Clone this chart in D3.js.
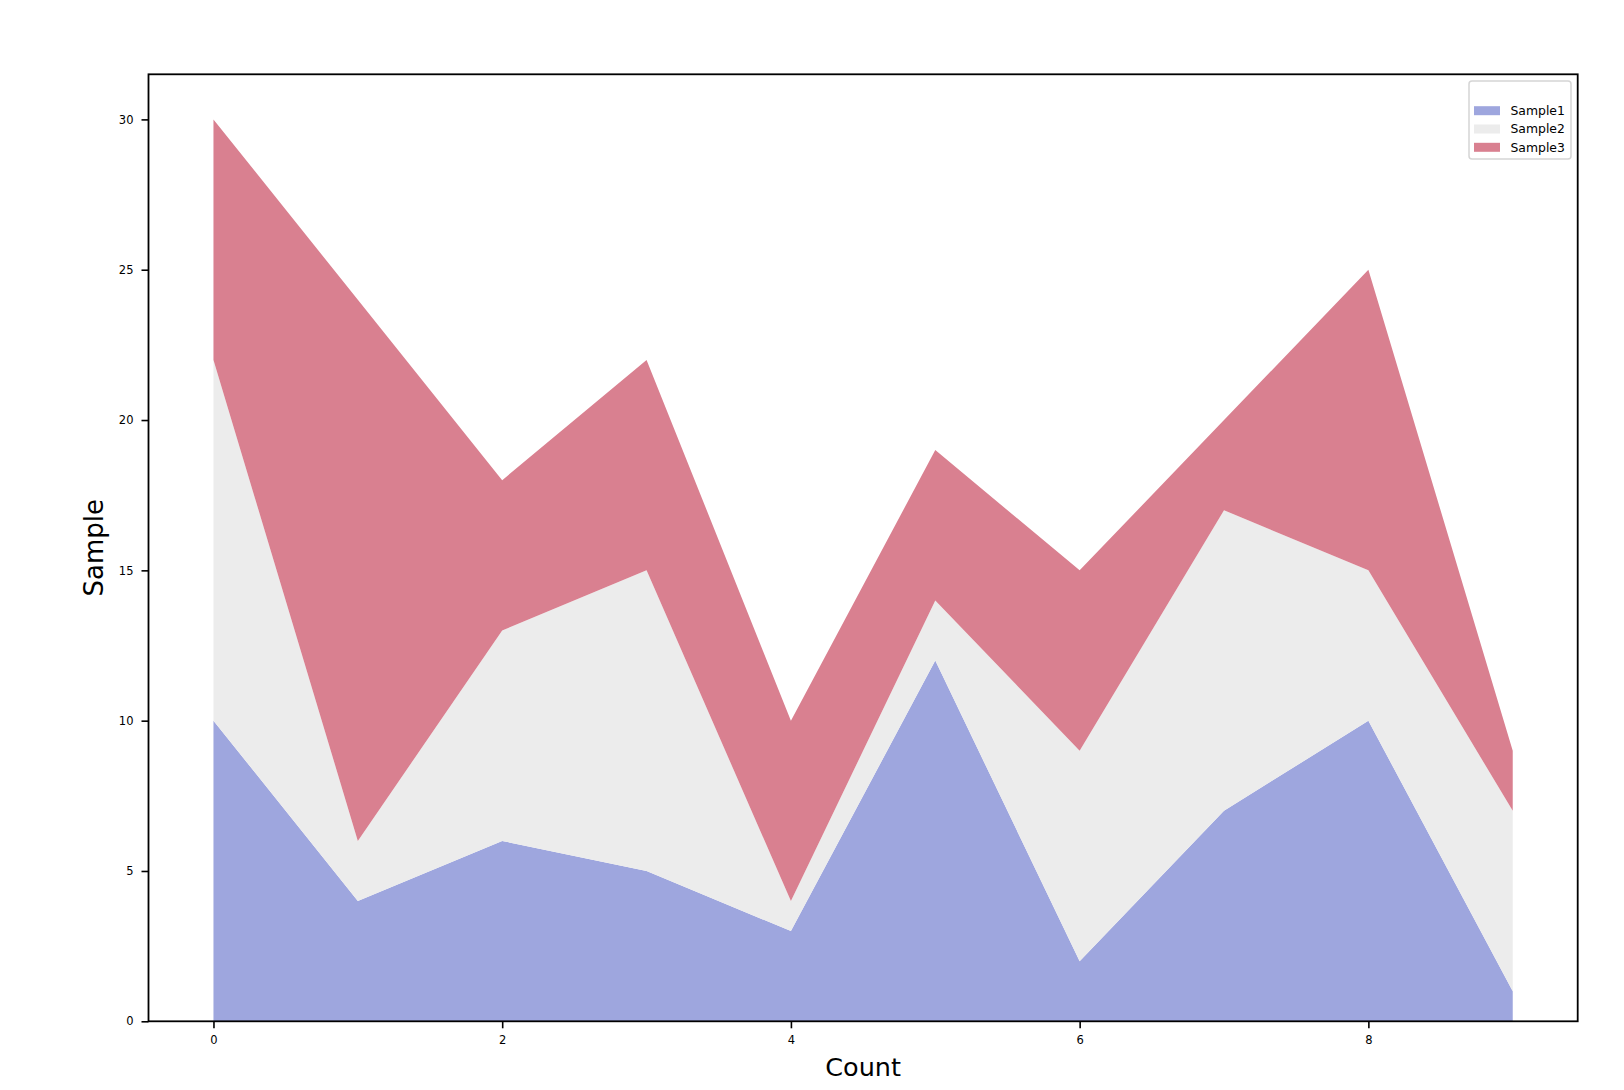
<!DOCTYPE html>
<html>
<head>
<meta charset="utf-8">
<script src="https://cdn.jsdelivr.net/npm/d3@7"></script>
<style>
	body { margin: 0; background: #fff; }
	text { font-family: "DejaVu Sans", sans-serif; }
</style>
</head>
<body>
<div id="chart"></div>
<script>
"use strict";
// data
const categories = [0, 1, 2, 3, 4, 5, 6, 7, 8, 9];
const sample1 = [10, 4, 6, 5, 3, 12, 2, 7, 10, 1];
const sample2 = [12, 2, 7, 10, 1, 2, 7, 10, 5, 6];
const sample3 = [8, 18, 5, 7, 6, 5, 6, 3, 10, 2];
const seriesNames = ["Sample1", "Sample2", "Sample3"];
const seriesColors = ["#9ea6de", "#ececec", "#d98090"];
const xTicks = [0, 2, 4, 6, 8];
const yTicks = [0, 5, 10, 15, 20, 25, 30];

const W = 1624, H = 1090;
const plotLeft = 148.5, plotRight = 1577.7, plotTop = 74.3, plotBottom = 1021.3;

let svg = d3.select("#chart").append("svg")
	.attr("width", W)
	.attr("height", H);

let x = d3.scaleLinear().domain([-0.45, 9.45]).range([plotLeft, plotRight]);
let y = d3.scaleLinear().domain([0, 31.5]).range([plotBottom, plotTop]);

let rows = categories.map(function (c, i) {
	return { c: c, Sample1: sample1[i], Sample2: sample2[i], Sample3: sample3[i] };
});
let stacked = d3.stack().keys(seriesNames)(rows);

let area = d3.area()
	.x(function (d) { return x(d.data.c) })
	.y0(function (d) { return y(d[0]) })
	.y1(function (d) { return y(d[1]) });

svg.append("g").selectAll("path")
	.data(stacked)
	.enter()
	.append("path")
	.attr("d", area)
	.style("fill", function (d, i) { return seriesColors[i] });

//x axis
let xAxis = svg.append("g")
	.attr("transform", "translate(0," + plotBottom + ")")
	.call(d3.axisBottom(x).tickValues(xTicks).tickSize(7).tickPadding(8).tickSizeOuter(0));
xAxis.select(".domain").remove();
xAxis.selectAll("line").style("stroke", "#000").style("stroke-width", "1.6px");
xAxis.selectAll("text").style("font-size", "11.5px").style("fill", "#000");

//y axis
let yAxis = svg.append("g")
	.attr("transform", "translate(" + plotLeft + ",0)")
	.call(d3.axisLeft(y).tickValues(yTicks).tickSize(7).tickPadding(8).tickSizeOuter(0));
yAxis.select(".domain").remove();
yAxis.selectAll("line").style("stroke", "#000").style("stroke-width", "1.6px");
yAxis.selectAll("text").style("font-size", "11.5px").style("fill", "#000");

//frame
svg.append("rect")
	.attr("x", plotLeft)
	.attr("y", plotTop)
	.attr("width", plotRight - plotLeft)
	.attr("height", plotBottom - plotTop)
	.style("fill", "none")
	.style("stroke", "#000")
	.style("stroke-width", "1.8px");

//axis titles
svg.append("text")
	.attr("x", (plotLeft + plotRight) / 2)
	.attr("y", 1076)
	.attr("text-anchor", "middle")
	.style("font-size", "25.5px")
	.text("Count");

svg.append("text")
	.attr("transform", "translate(103," + (plotTop + plotBottom) / 2 + ") rotate(-90)")
	.attr("text-anchor", "middle")
	.style("font-size", "26px")
	.text("Sample");

//legend
let legend = svg.append("g");
legend.append("rect")
	.attr("x", 1469)
	.attr("y", 81)
	.attr("width", 102)
	.attr("height", 78)
	.attr("rx", 3)
	.style("fill", "#fff")
	.style("fill-opacity", 0.8)
	.style("stroke", "#d5d5d5")
	.style("stroke-width", "1.5px");

let items = legend.selectAll("g.item")
	.data(seriesNames)
	.enter()
	.append("g")
	.attr("class", "item")
	.attr("transform", function (d, i) { return "translate(0," + (110.7 + i * 18.3) + ")" });

items.append("rect")
	.attr("x", 1474)
	.attr("y", -4.5)
	.attr("width", 26)
	.attr("height", 9)
	.style("fill", function (d, i) { return seriesColors[i] });

items.append("text")
	.attr("x", 1510.5)
	.attr("y", 4.4)
	.style("font-size", "12.4px")
	.style("fill", "#000")
	.text(function (d) { return d });
</script>
</body>
</html>
